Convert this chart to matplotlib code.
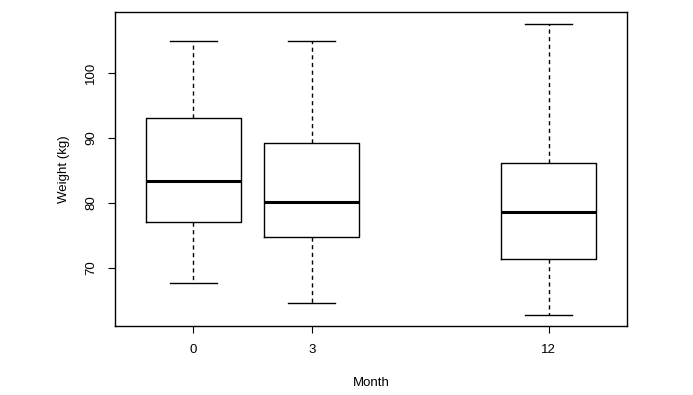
import matplotlib
matplotlib.use("Agg")
import matplotlib.pyplot as plt

months = ["0", "3", "12"]
positions = [1, 2, 4]
whislo = [67.6, 64.6, 62.8]
q1 = [77.1, 74.8, 71.4]
med = [83.4, 80.2, 78.6]
q3 = [93.1, 89.3, 86.2]
whishi = [105.0, 105.0, 107.5]

plt.rcParams['font.family'] = ['Liberation Sans', 'DejaVu Sans']

fig = plt.figure(figsize=(6.93, 3.95), dpi=100)
ax = fig.add_axes([115/693, 1-326/395, (627-115)/693, (326-12)/395])

stats = []
for i in range(len(months)):
    stats.append(dict(label=months[i], whislo=whislo[i], q1=q1[i], med=med[i],
                      q3=q3[i], whishi=whishi[i], fliers=[]))

ax.bxp(stats, positions=positions, widths=0.8, showfliers=False,
       boxprops=dict(color='black', linewidth=1.0),
       medianprops=dict(color='black', linewidth=2.2, solid_capstyle='butt'),
       whiskerprops=dict(color='black', linewidth=1.0, linestyle=(0, (3, 2.5))),
       capprops=dict(color='black', linewidth=1.0),
       capwidths=0.4)

ax.set_xlim(0.34, 4.66)
ax.set_ylim(61.05, 109.4)
ax.set_xticks(positions)
ax.set_xticklabels(months)
ax.set_yticks([70, 80, 90, 100])
ax.set_yticklabels(["70", "80", "90", "100"], rotation=90, va='center')
ax.tick_params(axis='both', direction='out', length=5, width=0.8, labelsize=9.5, pad=8)
for s in ax.spines.values():
    s.set_linewidth(1.0)
ax.set_xlabel("Month", fontsize=9.5, labelpad=15)
ax.set_ylabel("Weight (kg)", fontsize=9.5, labelpad=11)

fig.savefig("out.png", dpi=100)
